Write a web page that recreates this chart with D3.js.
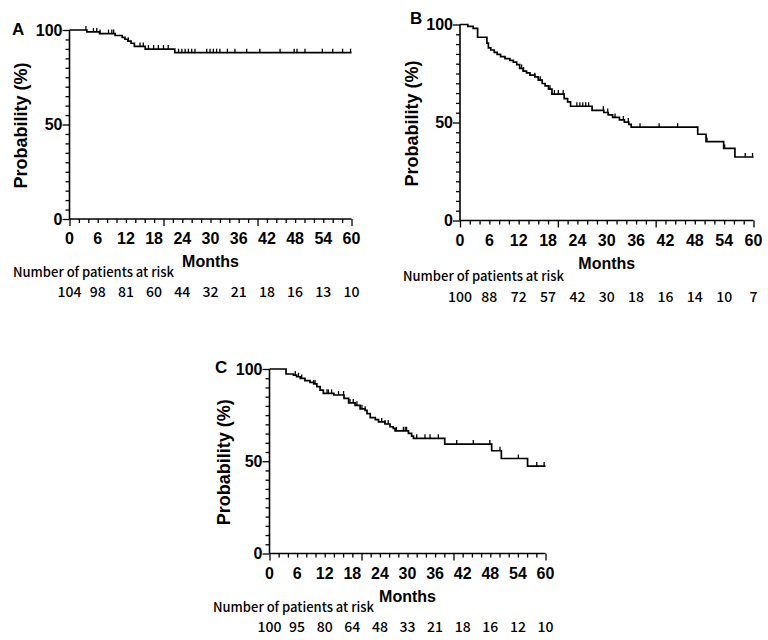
<!DOCTYPE html>
<html>
<head>
<meta charset="utf-8">
<script src="https://cdn.jsdelivr.net/npm/d3@7"></script>
<style>
  html, body { margin: 0; padding: 0; background: #fff; }
  svg { display: block; }
</style>
</head>
<body>
<svg id="chart" width="768" height="640"></svg>
<script>
// ---------------- DATA ----------------
const xTickLabels = [0, 6, 12, 18, 24, 30, 36, 42, 48, 54, 60];
const yTickLabels = [0, 50, 100];
const panelLetters = ["A", "B", "C"];
const xTitle = "Months";
const yTitle = "Probability (%)";
const riskTitle = "Number of patients at risk";

// Panel A
const timeA = [0, 3.7, 6.4, 9.7, 11.2, 11.8, 12.4, 13.1, 13.8, 16.1, 22.4];
const survA = [100, 99.0, 98.1, 97.1, 96.1, 95.1, 94.1, 93.0, 91.3, 89.9, 88.0];
const censorA = [3.5, 5.1, 5.8, 6.5, 8.3, 9.0, 9.4, 12.5, 15.0, 15.7, 16.8, 17.9, 18.9, 20.0, 21.0,
  23.2, 23.9, 24.6, 25.3, 26.0, 26.7, 29.2, 29.9, 30.6, 31.3, 32.0, 33.6, 35.2, 37.7, 40.5,
  44.8, 47.8, 48.4, 50.1, 53.8, 56.0, 58.1, 59.8];
const riskA = [104, 98, 81, 60, 44, 32, 21, 18, 16, 13, 10];

// Panel B
const timeB = [0, 1.6, 2.7, 3.6, 5.5, 5.8, 6.3, 7.0, 7.6, 8.3, 9.2, 10.2, 10.9, 11.6, 12.2, 12.9,
  13.6, 14.3, 15.3, 16.0, 16.8, 17.4, 18.1, 18.8, 21.3, 22.0, 22.6, 27.0, 29.4, 30.3, 31.2, 32.6,
  33.6, 34.5, 35.0, 48.6, 50.3, 53.9, 56.2];
const survB = [100, 99, 98, 93.5, 90.5, 88.1, 87.0, 85.8, 84.8, 83.6, 82.6, 81.7, 80.8, 79.5, 77.6,
  76.2, 75.3, 74.2, 73.3, 71.6, 69.9, 68.7, 67.0, 64.5, 62.2, 60.5, 58.3, 56.2, 55.1, 53.9, 52.6,
  51.3, 50.2, 49.0, 47.6, 44.0, 40.2, 36.8, 32.4];
const censorB = [12.6, 13.0, 15.3, 16.4, 18.4, 19.3, 20.1, 21.1, 23.9, 24.5, 25.1, 25.7, 26.3, 29.3,
  30.2, 31.7, 33.4, 34.4, 36.8, 40.7, 44.5, 50.5, 54.1, 58.3, 59.8];
const riskB = [100, 88, 72, 57, 42, 30, 18, 16, 14, 10, 7];

// Panel C
const timeC = [0, 3.6, 5.2, 5.9, 6.7, 7.7, 8.8, 9.6, 10.3, 11.0, 11.7, 14.0, 16.2, 17.2, 18.6, 19.7,
  20.8, 21.2, 21.9, 23.0, 23.7, 25.1, 26.2, 26.9, 27.3, 30.2, 30.9, 31.3, 38.1, 48.3, 50.4, 56.1];
const survC = [100, 97.3, 96.7, 95.8, 94.9, 93.7, 92.8, 91.9, 90.4, 88.6, 86.8, 85.9, 84.1, 81.6,
  80.3, 78.4, 77.6, 75.8, 73.6, 72.6, 71.3, 70.2, 68.7, 67.8, 66.5, 65.1, 63.6, 62.4, 59.3, 55.7,
  51.5, 47.4];
const censorC = [5.6, 6.3, 7.0, 9.6, 9.9, 12.5, 12.8, 13.5, 15.0, 16.1, 17.5, 18.2, 19.0, 20.1, 20.8,
  24.4, 25.1, 25.8, 27.6, 29.1, 29.5, 29.8, 32.0, 33.8, 34.9, 36.7, 40.7, 44.3, 47.9, 50.1, 54.1,
  58.1, 59.7];
const riskC = [100, 95, 80, 64, 48, 33, 21, 18, 16, 12, 10];

// ---------------- LAYOUT ----------------
const panels = [
  { letter: panelLetters[0], time: timeA, surv: survA, censor: censorA, risk: riskA,
    left: 69.5, right: 351.5, top: 30, bottom: 219, letterX: 12, letterY: 35,
    ylabX: 21, riskTitleX: 13, riskTitleY: 277, riskY: 297 },
  { letter: panelLetters[1], time: timeB, surv: survB, censor: censorB, risk: riskB,
    left: 460, right: 753.5, top: 24.5, bottom: 220.5, letterX: 410, letterY: 23.5,
    ylabX: 412, riskTitleX: 403, riskTitleY: 281, riskY: 302 },
  { letter: panelLetters[2], time: timeC, surv: survC, censor: censorC, risk: riskC,
    left: 269.5, right: 545.5, top: 369, bottom: 553.5, letterX: 215, letterY: 373,
    ylabX: 224, riskTitleX: 213, riskTitleY: 612, riskY: 632 }
];

const svg = d3.select("#chart");
const boldFont = "'Liberation Sans', Arial, sans-serif";
const riskFont = "'Noto Sans CJK JP', 'Noto Sans', sans-serif";

panels.forEach(p => {
  const g = svg.append("g");
  const x = d3.scaleLinear().domain([0, 60]).range([p.left, p.right]);
  const y = d3.scaleLinear().domain([0, 100]).range([p.bottom, p.top]);

  // X axis: minor every 2 months, major every 20
  const xAxis = g.append("g").attr("transform", `translate(0,${p.bottom})`)
    .call(d3.axisBottom(x).tickValues(d3.range(0, 61, 2)).tickSize(4).tickFormat(""));
  xAxis.selectAll(".tick line").attr("stroke", "#000").attr("stroke-width", 1.3)
    .attr("y2", d => (d % 20 === 0 ? 7 : 4));
  xAxis.select(".domain").attr("stroke", "#000").attr("stroke-width", 1.6)
    .attr("d", `M${p.left},0H${p.right}`);

  // X tick labels
  g.append("g").selectAll("text").data(xTickLabels).join("text")
    .attr("x", d => x(d)).attr("y", p.bottom + 25)
    .attr("text-anchor", "middle")
    .attr("font-family", boldFont).attr("font-weight", "bold").attr("font-size", 16)
    .text(d => d);

  // Y axis: minor every 5, major every 50
  const yAxis = g.append("g").attr("transform", `translate(${p.left},0)`)
    .call(d3.axisLeft(y).tickValues(d3.range(0, 101, 5)).tickSize(4).tickFormat(""));
  yAxis.selectAll(".tick line").attr("stroke", "#000").attr("stroke-width", 1.3)
    .attr("x2", d => (d % 50 === 0 ? -7 : -4));
  yAxis.select(".domain").attr("stroke", "#000").attr("stroke-width", 1.6)
    .attr("d", `M0,${p.top}V${p.bottom}`);

  g.append("g").selectAll("text").data(yTickLabels).join("text")
    .attr("x", p.left - 7).attr("y", d => y(d))
    .attr("dy", "0.36em")
    .attr("text-anchor", "end")
    .attr("font-family", boldFont).attr("font-weight", "bold").attr("font-size", 16)
    .text(d => d);

  // Axis titles
  g.append("text")
    .attr("x", (p.left + p.right) / 2).attr("y", p.bottom + 48)
    .attr("text-anchor", "middle")
    .attr("font-family", boldFont).attr("font-weight", "bold").attr("font-size", 16)
    .text(xTitle);
  g.append("text")
    .attr("transform", `translate(${p.ylabX},${(p.top + p.bottom) / 2 + 1}) rotate(-90)`)
    .attr("text-anchor", "middle").attr("dy", "0.35em")
    .attr("font-family", boldFont).attr("font-weight", "bold").attr("font-size", 18)
    .text(yTitle);

  // Panel letter
  g.append("text").attr("x", p.letterX).attr("y", p.letterY)
    .attr("font-family", boldFont).attr("font-weight", "bold").attr("font-size", 17)
    .text(p.letter);

  // Survival step curve
  const pts = p.time.map((t, i) => [t, p.surv[i]]);
  pts.push([60, p.surv[p.surv.length - 1]]);
  const line = d3.line().x(d => x(d[0])).y(d => y(d[1])).curve(d3.curveStepAfter);
  g.append("path").datum(pts).attr("d", line)
    .attr("fill", "none").attr("stroke", "#000").attr("stroke-width", 1.7);

  // Censor marks
  const survAt = t => {
    let v = p.surv[0];
    for (let i = 0; i < p.time.length; i++) { if (p.time[i] <= t) v = p.surv[i]; }
    return v;
  };
  g.append("g").selectAll("line").data(p.censor).join("line")
    .attr("x1", d => x(d)).attr("x2", d => x(d))
    .attr("y1", d => y(survAt(d))).attr("y2", d => y(survAt(d)) - 4)
    .attr("stroke", "#000").attr("stroke-width", 1.3);

  // Risk table
  g.append("text").attr("x", p.riskTitleX).attr("y", p.riskTitleY)
    .attr("font-family", riskFont).attr("font-weight", 500).attr("font-size", 13)
    .text(riskTitle);
  g.append("g").selectAll("text").data(p.risk).join("text")
    .attr("x", (d, i) => x(xTickLabels[i])).attr("y", p.riskY)
    .attr("text-anchor", "middle")
    .attr("font-family", riskFont).attr("font-weight", 500).attr("font-size", 14)
    .text(d => d);
});
</script>
</body>
</html>
